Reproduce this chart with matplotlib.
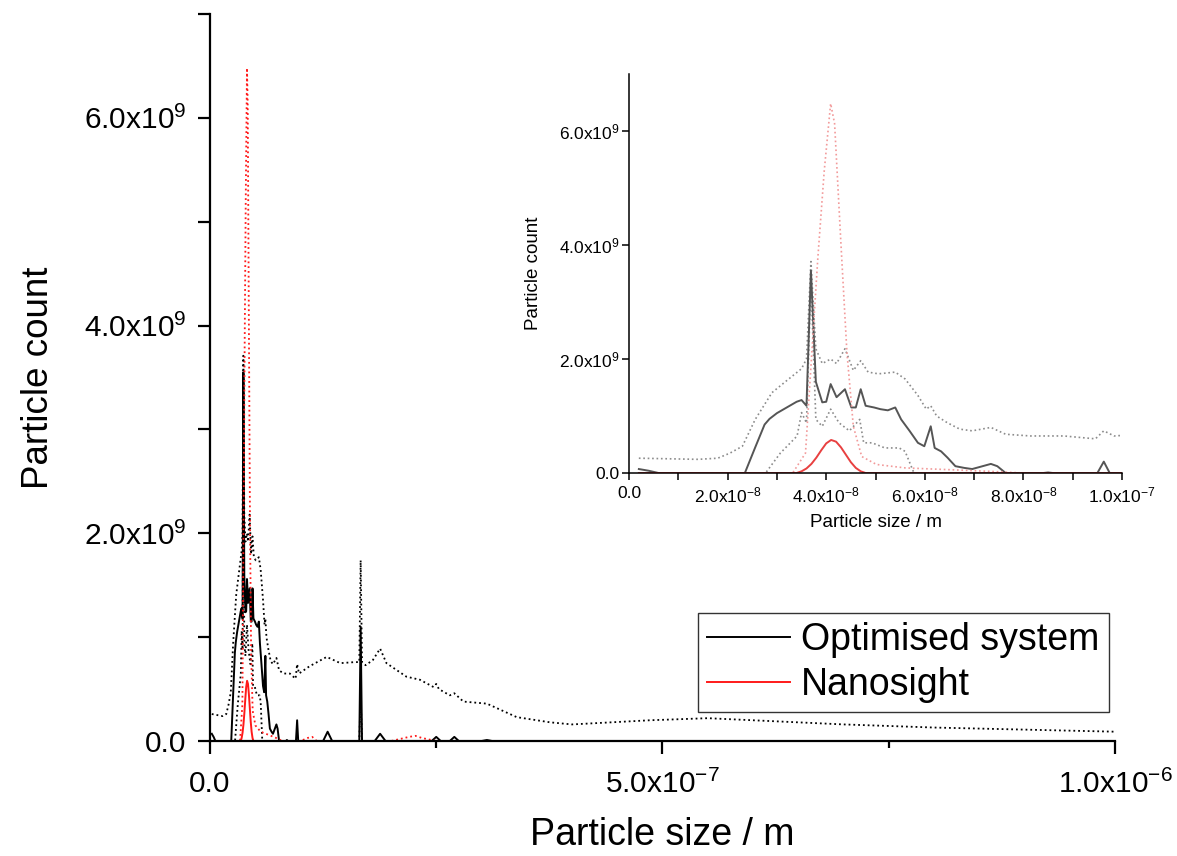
import numpy as np
import matplotlib
matplotlib.use('Agg')
import matplotlib.pyplot as plt
from matplotlib.ticker import MultipleLocator, FuncFormatter, NullLocator

plt.rcParams['font.family'] = ['Liberation Sans', 'DejaVu Sans']
plt.rcParams['mathtext.fontset'] = 'custom'
plt.rcParams['mathtext.rm'] = 'Liberation Sans'
plt.rcParams['mathtext.default'] = 'regular'

# sizes in nm, counts in units of 1e9
# Optimised system - mean (solid)
opt_x = [2, 4, 6, 10, 23.5, 25.6, 27.5, 28.5, 30, 32, 34, 35, 36, 36.9, 37.9, 39.2, 40,
         40.9, 42.1, 43.8, 45.1, 46, 47, 48, 49.7, 51, 52.5, 54, 55.2, 56.9, 58.6, 59.9,
         61.2, 62, 63.3, 64.6, 66.2, 68, 69.6, 71.3, 73.4, 74.7, 76.4, 84, 85, 86, 95,
         96.3, 97.5, 125, 130, 135, 165, 166.5, 168, 182, 188, 194, 245, 250, 255, 265,
         270, 275, 300, 306, 312, 1000]
opt_y = [0.07, 0.04, 0.0, 0.0, 0.0, 0.45, 0.85, 0.95, 1.05, 1.15, 1.25, 1.28, 1.18, 3.55,
         1.6, 1.24, 1.25, 1.56, 1.33, 1.47, 1.15, 1.15, 1.47, 1.18, 1.15, 1.12, 1.1, 1.15,
         0.94, 0.74, 0.53, 0.47, 0.82, 0.44, 0.38, 0.27, 0.12, 0.09, 0.07, 0.11, 0.16, 0.12,
         0.0, 0.0, 0.01, 0.0, 0.0, 0.2, 0.0, 0.0, 0.09, 0.0, 0.0, 1.1, 0.0, 0.0, 0.07, 0.0,
         0.0, 0.04, 0.0, 0.0, 0.04, 0.0, 0.0, 0.01, 0.0, 0.0]

# Optimised system - upper bound (dotted)
opt_hi_x = [2, 14, 18, 20.5, 23, 25.6, 29, 32.4, 35, 36, 36.9, 37.9, 39.2, 40.9, 42.1, 43.8,
            45.5, 47, 48.5, 50.6, 54, 56, 58.6, 60.3, 61.2, 62.4, 64.6, 67.1, 69.6, 73.4,
            76.4, 81.5, 88.2, 92, 94.6, 96.3, 98.4, 110, 129, 144, 160, 165, 166.5, 168,
            172, 180, 188, 195, 217, 232, 247, 250, 253, 265, 270, 280, 306, 339, 376, 400,
            486, 550, 600, 700, 800, 900, 1000]
opt_hi_y = [0.26, 0.24, 0.26, 0.35, 0.47, 0.94, 1.41, 1.65, 1.83, 2.0, 3.71, 2.18, 1.92, 2.0,
            1.92, 2.18, 1.8, 1.97, 1.77, 1.74, 1.77, 1.65, 1.36, 1.12, 1.18, 1.0, 0.88, 0.77,
            0.74, 0.8, 0.68, 0.65, 0.65, 0.62, 0.6, 0.74, 0.65, 0.72, 0.81, 0.75, 0.76, 0.76,
            1.74, 0.76, 0.73, 0.78, 0.89, 0.75, 0.62, 0.59, 0.52, 0.55, 0.5, 0.44, 0.46, 0.38,
            0.36, 0.23, 0.18, 0.16, 0.2, 0.22, 0.2, 0.16, 0.13, 0.11, 0.09]

# Optimised system - lower bound (dotted)
opt_lo_x = [2, 27.7, 30.7, 34.1, 35, 36, 36.9, 37.9, 39.2, 40.9, 42.6, 44.7, 46.8, 47.6,
            49.3, 51.9, 54.8, 56, 57.8, 165, 166.5, 168, 1000]
opt_lo_y = [0.0, 0.0, 0.35, 0.65, 1.06, 0.88, 3.35, 0.94, 0.82, 1.12, 0.88, 0.74, 0.94, 0.53,
            0.53, 0.44, 0.44, 0.38, 0.0, 0.0, 0.45, 0.0, 0.0]

# Nanosight - mean (solid)
ns_x = [2, 34, 35, 36, 37, 38, 39, 40, 41, 42, 43, 44, 45, 46, 47, 48, 1000]
ns_y = [0.0, 0.0, 0.03, 0.08, 0.16, 0.27, 0.4, 0.52, 0.58, 0.55, 0.45, 0.32, 0.19, 0.09,
        0.03, 0.0, 0.0]

# Nanosight - upper bound (dotted)
ns_hi_x = [2, 33.2, 35.8, 37, 38.3, 39.6, 40.9, 41.7, 43, 44.2, 45.5, 47.2, 50.2, 56, 64.6,
           73, 80, 100, 108, 113, 118, 200, 220, 227, 234, 250, 1000]
ns_hi_y = [0.0, 0.0, 0.35, 2.0, 3.77, 5.3, 6.48, 6.13, 4.0, 2.12, 0.82, 0.29, 0.15, 0.09,
           0.06, 0.03, 0.0, 0.0, 0.03, 0.04, 0.0, 0.0, 0.04, 0.05, 0.03, 0.0, 0.0]

NM = 1e-9
G = 1e9


def sci_fmt(v, pos):
    if abs(v) < 1e-30:
        return '0.0'
    e = int(np.floor(np.log10(abs(v)) + 1e-9))
    m = v / 10 ** e
    return f'{m:.1f}x10$^{{{e}}}$'


fig = plt.figure(figsize=(11.77, 8.56), dpi=100)
ax = fig.add_axes([0.1784, 0.1343, 0.7689, 0.8493])

black = '#000000'
red = '#ff1a1a'
ax.plot(np.array(opt_hi_x) * NM, np.array(opt_hi_y) * G, ':', color=black, lw=1.3)
ax.plot(np.array(opt_lo_x) * NM, np.array(opt_lo_y) * G, ':', color=black, lw=1.3)
ax.plot(np.array(opt_x) * NM, np.array(opt_y) * G, '-', color=black, lw=1.4, label='Optimised system')
ax.plot(np.array(ns_hi_x) * NM, np.array(ns_hi_y) * G, ':', color=red, lw=1.3)
ax.plot(np.array(ns_x) * NM, np.array(ns_y) * G, '-', color=red, lw=1.4, label='Nanosight')

ax.set_xlim(0, 1e-6)
ax.set_ylim(0, 7e9)
for s in ['top', 'right']:
    ax.spines[s].set_visible(False)
for s in ['left', 'bottom']:
    ax.spines[s].set_linewidth(1.6)
ax.xaxis.set_major_locator(MultipleLocator(5e-7))
ax.xaxis.set_minor_locator(MultipleLocator(2.5e-7))
ax.yaxis.set_major_locator(MultipleLocator(2e9))
ax.yaxis.set_minor_locator(MultipleLocator(1e9))
ax.xaxis.set_major_formatter(FuncFormatter(sci_fmt))
ax.yaxis.set_major_formatter(FuncFormatter(sci_fmt))
ax.tick_params(which='both', direction='out', width=1.6, labelsize=21.5)
ax.tick_params(which='major', length=9)
ax.tick_params(axis='y', which='minor', length=9)
ax.tick_params(axis='x', which='minor', length=5)
ax.tick_params(axis='x', pad=12)
ax.tick_params(axis='y', pad=8)
ax.set_xlabel('Particle size / m', fontsize=27, labelpad=13)
ax.set_ylabel('Particle count', fontsize=26.5, labelpad=20)

leg = ax.legend(loc='upper left', bbox_to_anchor=(698 / 1177, 1 - 613 / 856),
                bbox_transform=fig.transFigure, borderaxespad=0, fontsize=27,
                handlelength=2.2, handletextpad=0.3, labelspacing=0.22,
                borderpad=0.25, fancybox=False, framealpha=1, edgecolor='#333333')
leg.get_frame().set_linewidth(1.0)

# inset, zoomed on 0 - 100 nm
ins = fig.add_axes([0.5344, 0.4474, 0.4189, 0.4662])
gray = '#555555'
lgray = '#8c8c8c'
pink = '#f29a9a'
ins.plot(np.array(opt_hi_x) * NM, np.array(opt_hi_y) * G, ':', color=lgray, lw=1.2)
ins.plot(np.array(opt_lo_x) * NM, np.array(opt_lo_y) * G, ':', color=lgray, lw=1.2)
ins.plot(np.array(opt_x) * NM, np.array(opt_y) * G, '-', color=gray, lw=1.4)
ins.plot(np.array(ns_hi_x) * NM, np.array(ns_hi_y) * G, ':', color=pink, lw=1.2)
ins.plot(np.array(ns_x) * NM, np.array(ns_y) * G, '-', color='#e84040', lw=1.4)
ins.set_xlim(0, 1e-7)
ins.set_ylim(0, 7e9)
for s in ['top', 'right']:
    ins.spines[s].set_visible(False)
for s in ['left', 'bottom']:
    ins.spines[s].set_linewidth(1.1)
ins.xaxis.set_major_locator(MultipleLocator(2e-8))
ins.xaxis.set_minor_locator(MultipleLocator(1e-8))
ins.yaxis.set_major_locator(MultipleLocator(2e9))
ins.yaxis.set_minor_locator(NullLocator())
ins.xaxis.set_major_formatter(FuncFormatter(sci_fmt))
ins.yaxis.set_major_formatter(FuncFormatter(sci_fmt))
ins.tick_params(which='both', direction='out', width=1.1, labelsize=12.5, length=5)
ins.tick_params(axis='x', pad=4)
ins.tick_params(axis='y', pad=2)
ins.set_xlabel('Particle size / m', fontsize=13.5, labelpad=6)
ins.set_ylabel('Particle count', fontsize=13.5, labelpad=12)

fig.savefig('out.png', dpi=100)
